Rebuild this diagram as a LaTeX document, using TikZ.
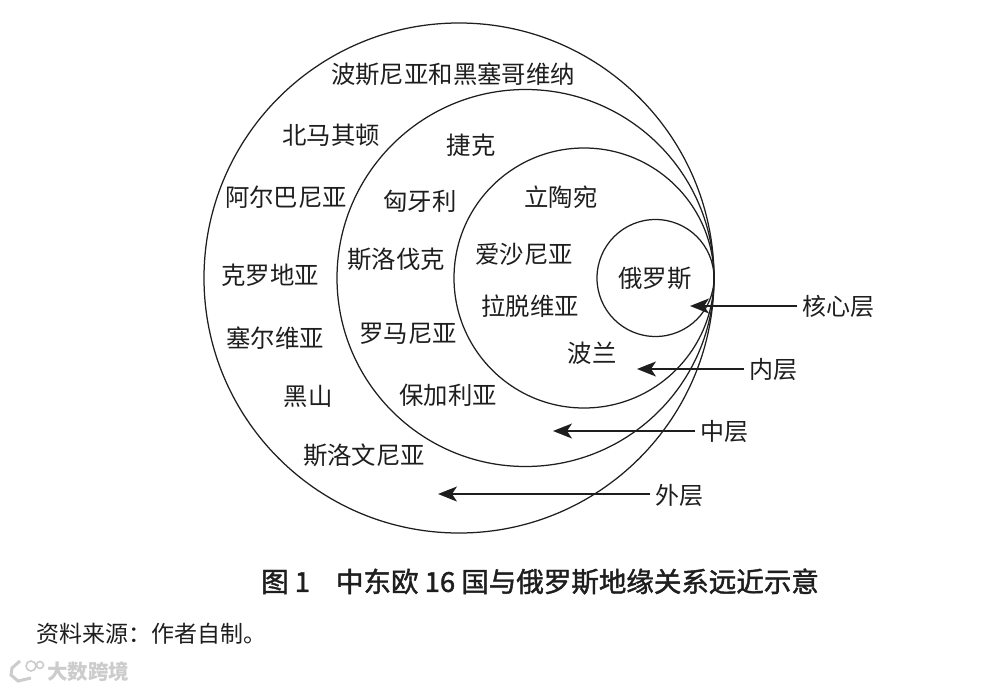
\documentclass[tikz,border=0pt]{standalone}
\usepackage{fontspec}
\setmainfont{Noto Sans CJK SC}
\newfontfamily\capfont[FakeBold=1.5]{Noto Sans CJK SC}
\usetikzlibrary{arrows.meta}
\definecolor{ink}{HTML}{1E1E1E}
\tikzset{
  ring/.style={draw=ink,line width=1.25pt,circle,inner sep=0pt,outer sep=0pt,minimum size=#1},
  place/.style={text=ink,inner sep=0pt,font=\fontsize{24.4}{28}\selectfont},
  layer/.style={text=ink,inner sep=5pt,font=\fontsize{24}{28}\selectfont},
  pointer/.style={draw=ink,line width=1.5pt,-{Stealth[length=19pt,width=15pt,inset=5pt]}},
}
\begin{document}
\begin{tikzpicture}[x=1pt,y=-1pt]
\useasboundingbox (0,0) rectangle (984,690);
\fill[white] (0,0) rectangle (984,690);
% nested circles, tangent at the right
\node[ring=510pt] (outer) at (459,278) {};
\node[ring=377pt] (middle) at (525.5,278) {};
\node[ring=260pt] (inner) at (584,278) {};
\node[ring=117pt] (core) at (655.5,278) {};
% places
\node[place] (p1) at (453,74.5) {波斯尼亚和黑塞哥维纳};
\node[place] (p2) at (331,135.5) {北马其顿};
\node[place] (p3) at (471,145.5) {捷克};
\node[place] (p4) at (286,197.5) {阿尔巴尼亚};
\node[place] (p5) at (420,201.5) {匈牙利};
\node[place] (p6) at (561,197.5) {立陶宛};
\node[place] (p7) at (396,259.5) {斯洛伐克};
\node[place] (p8) at (524,254.5) {爱沙尼亚};
\node[place] (p9) at (655,278.5) {俄罗斯};
\node[place] (p10) at (270,275.5) {克罗地亚};
\node[place] (p11) at (530,306.5) {拉脱维亚};
\node[place] (p12) at (408,333.5) {罗马尼亚};
\node[place] (p13) at (275,338.5) {塞尔维亚};
\node[place] (p14) at (592,353.5) {波兰};
\node[place] (p15) at (308,396.5) {黑山};
\node[place] (p16) at (448,395.5) {保加利亚};
\node[place] (p17) at (364,455.5) {斯洛文尼亚};
% layer labels and pointers
\node[layer] (l1) at (838.5,306.5) {核心层};
\node[layer] (l2) at (773.5,369.5) {内层};
\node[layer] (l3) at (724.5,431.5) {中层};
\node[layer] (l4) at (679.5,495.5) {外层};
\coordinate (t1) at (690,306);
\coordinate (t2) at (637,369);
\coordinate (t3) at (553,431);
\coordinate (t4) at (438,494);
\draw[pointer] (l1.west |- t1) -- (t1);
\draw[pointer] (l2.west |- t2) -- (t2);
\draw[pointer] (l3.west |- t3) -- (t3);
\draw[pointer] (l4.west |- t4) -- (t4);
% caption
\node[text=ink,inner sep=0pt,font=\fontsize{27.5}{30}\selectfont\capfont] (cap) at (540,581.5) {图 1\hspace{26pt}中东欧 16 国与俄罗斯地缘关系远近示意};
\node[text=ink,inner sep=0pt,anchor=west,font=\fontsize{23}{26}\selectfont] (src) at (36,633.5) {资料来源：作者自制。};
% watermark
\node[text=black!20,inner sep=0pt,anchor=west,font=\fontsize{20.5}{24}\selectfont\bfseries] (wm) at (47,672) {大数跨境};
\draw[black!20,line width=3pt] (20,661) -- (12,668) -- (11,675) -- (18,681) -- (31,678);
\draw[black!20,line width=1.6pt] (31,666) circle (5pt) (40,665) circle (3.5pt);
\end{tikzpicture}
\end{document}
